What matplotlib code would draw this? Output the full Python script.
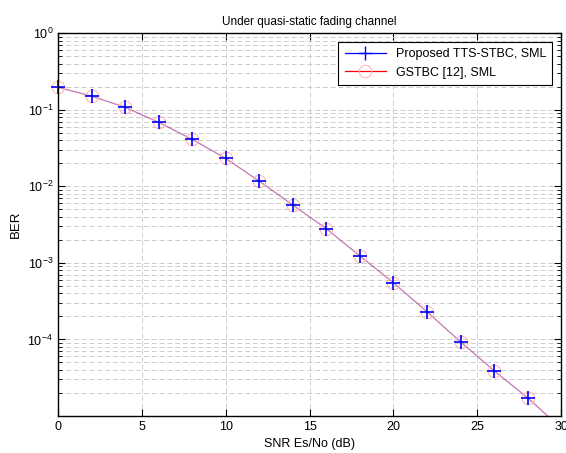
import numpy as np
import matplotlib.pyplot as plt
from matplotlib.lines import Line2D
from matplotlib.ticker import LogLocator, NullFormatter

plt.rcParams['font.family'] = ['Liberation Sans', 'DejaVu Sans']
plt.rcParams['mathtext.fontset'] = 'custom'
plt.rcParams['mathtext.rm'] = 'Liberation Sans'

snr = [0, 2, 4, 6, 8, 10, 12, 14, 16, 18, 20, 22, 24, 26, 28, 30]
ber_tts = [0.197, 0.151, 0.108, 0.0687, 0.0411, 0.0232, 0.0117, 0.0057, 0.0028,
           0.00123, 0.00055, 2.3e-4, 9.3e-5, 3.9e-5, 1.73e-5, 6.9e-6]
ber_gstbc = [0.197, 0.151, 0.108, 0.0687, 0.0411, 0.0232, 0.0117, 0.0057, 0.0028,
             0.00123, 0.00055, 2.3e-4, 9.3e-5, 3.9e-5, 1.73e-5, 6.9e-6]
yticks = [1e-4, 1e-3, 1e-2, 1e-1, 1e0]
ytick_labels = ['$10^{-4}$', '$10^{-3}$', '$10^{-2}$', '$10^{-1}$', '$10^{0}$']
ymin, ymax = 1e-5, 1

fig = plt.figure(figsize=(5.66, 4.53), dpi=100)
ax = fig.add_axes([0.1025, 0.0817, 0.889, 0.8448])

# lines overlap in the original, giving a light mauve trace
ax.semilogy(snr, ber_tts, color=(0, 0, 1, 0.3), lw=0.9)
ax.semilogy(snr, ber_gstbc, color=(1, 0, 0, 0.3), lw=0.9)

# markers are not clipped at the axes edge, but points below ylim are hidden
x_in = [x for x, b in zip(snr, ber_gstbc) if b >= ymin]
g_in = [b for b in ber_gstbc if b >= ymin]
t_in = [b for b in ber_tts if b >= ymin]
ax.semilogy(x_in, g_in, ls='none', marker='o', ms=9, mfc='none',
            mec='#ffb8b8', mew=0.8, clip_on=False)
ax.semilogy(x_in[:len(t_in)], t_in, ls='none', marker='+', ms=10, mec='blue',
            mew=1.2, clip_on=False)

ax.set_xlim(0, 30)
ax.set_ylim(ymin, ymax)
ax.set_xticks([0, 5, 10, 15, 20, 25, 30])
ax.set_yticks(yticks)
ax.set_yticklabels(ytick_labels)
ax.yaxis.set_minor_locator(LogLocator(base=10, subs=np.arange(2, 10)))
ax.yaxis.set_minor_formatter(NullFormatter())

ax.grid(True, which='major', ls=(0, (5, 3)), color='#cccccc', lw=0.7)
ax.grid(True, which='minor', axis='y', ls=(0, (5, 3)), color='#cccccc', lw=0.7)
ax.tick_params(which='both', direction='in', top=True, right=True, labelsize=9)
ax.tick_params(which='major', length=5)
ax.tick_params(which='minor', length=3)
for s in ax.spines.values():
    s.set_linewidth(1.0)

ax.set_xlabel('SNR Es/No (dB)', fontsize=9)
ax.set_ylabel('BER', fontsize=9.5)
ax.set_title('Under quasi-static fading channel', fontsize=8.5)

handles = [
    Line2D([], [], color='blue', lw=0.9, marker='+', ms=10, mew=1.0),
    Line2D([], [], color='red', lw=0.9, marker='o', ms=9, mfc='none',
           mec='#ffb8b8', mew=0.8),
]
labels = ['Proposed TTS-STBC, SML', 'GSTBC [12], SML']
leg = ax.legend(handles, labels, loc='upper right', fontsize=9, fancybox=False,
                framealpha=1, edgecolor='black', handlelength=3.3,
                borderaxespad=0.7, borderpad=0.5)
leg.get_frame().set_linewidth(0.8)

fig.savefig('out.png', dpi=100)
